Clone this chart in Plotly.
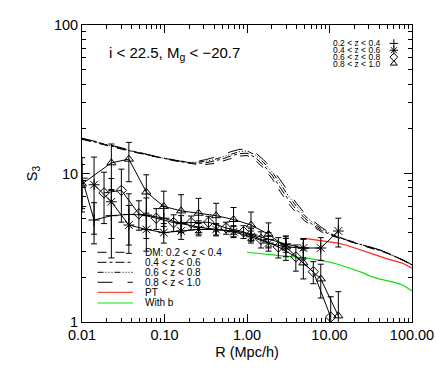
import plotly.graph_objects as go

# ---------------------------------------------------------------------------
# Data
# ---------------------------------------------------------------------------

# bin centres, R in Mpc/h
r_bins = [0.0140, 0.0227, 0.0370, 0.0602, 0.0980, 0.159, 0.259, 0.422,
          0.687, 1.118, 1.82, 2.96, 4.82, 7.84, 12.8]
r_bins_shift = [0.0185, 0.0300, 0.0489, 0.0795, 0.129, 0.210, 0.342, 0.557,
                0.907, 1.476, 2.40, 3.91, 6.36, 10.35]

# galaxies 0.2 < z < 0.4 (+)
r_z1 = [0.0100] + r_bins[:13]
s3_z1 = [9.3, 4.86, 5.2, 5.3, 5.25, 5.0, 4.6, 4.35, 4.2, 4.1, 3.9, 3.6, 3.35, 3.15]
err_z1 = [3.5, 1.5, 2.5, 2.0, 1.6, 1.0, 0.6, 0.45, 0.4, 0.35, 0.35, 0.4, 0.4, 0.45]

# galaxies 0.4 < z < 0.6 (asterisk)
r_z2 = r_bins
s3_z2 = [8.4, 6.45, 4.5, 4.2, 4.0, 4.1, 4.2, 4.2, 4.05, 3.75, 3.4, 3.2, 3.15, 3.15, 4.1]
err_z2 = [4.5, 2.8, 1.6, 1.2, 0.6, 0.5, 0.4, 0.35, 0.35, 0.35, 0.4, 0.45, 0.5, 0.55, 0.9]

# galaxies 0.6 < z < 0.8 (diamond)
r_z3 = r_bins_shift
s3_z3 = [7.4, 7.7, 5.35, 5.0, 4.67, 4.67, 4.7, 4.3, 4.05, 3.6, 3.2, 2.75, 2.18, 1.08]
err_z3 = [2.8, 3.0, 1.2, 0.8, 0.6, 0.5, 0.45, 0.4, 0.4, 0.45, 0.5, 0.55, 0.37, 0.4]

# galaxies 0.8 < z < 1.0 (triangle)
r_z4 = [0.0100] + r_bins[1:]
s3_z4 = [8.5, 11.8, 12.5, 7.5, 6.0, 5.6, 5.4, 5.2, 4.9, 4.5, 3.9, 3.2, 2.5, 1.95, 1.1]
err_z4 = [3.0, 4.0, 3.7, 2.3, 1.6, 1.6, 1.4, 1.1, 1.0, 1.0, 0.75, 0.6, 0.55, 0.5, 0.5]

# dark matter curves
r_dm = [0.0100, 0.0126, 0.0158, 0.0200, 0.0251, 0.0316, 0.0398, 0.0501, 0.0631, 0.0794,
        0.100, 0.126, 0.158, 0.200, 0.251, 0.316, 0.398, 0.501, 0.631, 0.794,
        1.00, 1.26, 1.58, 2.00, 2.51, 3.16, 3.98, 5.01, 6.31, 7.94,
        10.0, 12.6, 15.8, 20.0, 25.1, 31.6, 39.8, 50.1, 63.1, 79.4, 100.0]
dm_z1 = [17.0, 16.5, 16.0, 15.5, 15.0, 14.5, 14.05, 13.65, 13.25, 12.85, 12.55, 12.25, 11.95,
         11.7, 11.5, 11.5, 11.7, 12.1, 12.6, 13.1, 13.2, 12.3, 10.9, 9.3, 7.6, 6.3, 5.4, 4.8,
         4.4, 4.05, 3.85, 3.7, 3.52, 3.4, 3.28, 3.16, 3.04, 2.9, 2.74, 2.59, 2.41]
dm_z2 = [17.1, 16.6, 16.1, 15.6, 15.1, 14.6, 14.1, 13.7, 13.3, 12.9, 12.6, 12.3, 12.0,
         11.8, 11.7, 11.8, 12.1, 12.5, 13.1, 13.6, 13.7, 12.8, 11.4, 9.8, 8.1, 6.7, 5.7, 5.0,
         4.5, 4.15, 3.9, 3.73, 3.54, 3.42, 3.3, 3.18, 3.05, 2.92, 2.75, 2.6, 2.42]
dm_z3 = [17.2, 16.7, 16.2, 15.7, 15.2, 14.7, 14.2, 13.75, 13.35, 12.95, 12.65, 12.35, 12.05,
         11.9, 11.9, 12.1, 12.4, 12.9, 13.5, 14.0, 14.2, 13.3, 11.9, 10.3, 8.6, 7.1, 6.0, 5.2,
         4.65, 4.25, 3.95, 3.76, 3.56, 3.43, 3.31, 3.19, 3.06, 2.93, 2.76, 2.61, 2.43]
dm_z4 = [17.3, 16.8, 16.3, 15.8, 15.3, 14.8, 14.3, 13.8, 13.4, 13.0, 12.7, 12.4, 12.1,
         12.0, 12.1, 12.4, 12.8, 13.3, 14.0, 14.5, 14.7, 13.8, 12.4, 10.8, 9.1, 7.5, 6.3, 5.4,
         4.8, 4.35, 4.0, 3.78, 3.58, 3.45, 3.33, 3.2, 3.07, 2.94, 2.77, 2.62, 2.44]

# perturbation theory and with bias
r_pt = [5.01, 6.31, 7.94, 10.0, 12.6, 15.8, 20.0, 25.1, 31.6, 39.8, 50.1, 63.1, 79.4, 100.0]
s3_pt = [3.66, 3.6, 3.53, 3.46, 3.4, 3.3, 3.15, 3.02, 2.9, 2.77, 2.66, 2.57, 2.47, 2.3]
r_b = [1.00, 1.26, 1.58, 2.00, 2.51, 3.16, 3.98, 5.01, 6.31, 7.94, 10.0, 12.6, 15.8, 20.0,
       25.1, 31.6, 39.8, 50.1, 63.1, 79.4, 100.0]
s3_b = [2.95, 2.92, 2.88, 2.84, 2.8, 2.77, 2.74, 2.7, 2.65, 2.6, 2.53, 2.45, 2.36, 2.25,
        2.15, 2.03, 1.95, 1.89, 1.84, 1.76, 1.62]

gal_labels = ['0.2 < z < 0.4', '0.4 < z < 0.6', '0.6 < z < 0.8', '0.8 < z < 1.0']
dm_labels = ['DM: 0.2 < z < 0.4', '0.4 < z < 0.6', '0.6 < z < 0.8', '0.8 < z < 1.0']

# ---------------------------------------------------------------------------
# Figure
# ---------------------------------------------------------------------------

FONT = 'Liberation Sans, Arial, sans-serif'
dm_dashes = ['dash', 'dashdot', '6px,2px,1px,2px,1px,2px,1px,2px', 'longdash']
symbols = ['cross-thin-open', 'asterisk-open', 'diamond-open', 'triangle-up-open']
sizes = [8, 9, 8, 8]

fig = go.Figure()

for ys, dash in zip([dm_z1, dm_z2, dm_z3, dm_z4], dm_dashes):
    fig.add_trace(go.Scatter(x=r_dm, y=ys, mode='lines',
                             line=dict(color='black', width=1, dash=dash)))

fig.add_trace(go.Scatter(x=r_pt, y=s3_pt, mode='lines', line=dict(color='#ff2020', width=1.2)))
fig.add_trace(go.Scatter(x=r_b, y=s3_b, mode='lines', line=dict(color='#11dd11', width=1.2)))

gal = [(r_z1, s3_z1, err_z1), (r_z2, s3_z2, err_z2),
       (r_z3, s3_z3, err_z3), (r_z4, s3_z4, err_z4)]
for (xs, ys, es), sym, sz in zip(gal, symbols, sizes):
    fig.add_trace(go.Scatter(
        x=xs, y=ys, mode='lines+markers',
        line=dict(color='black', width=1),
        marker=dict(symbol=sym, size=sz, color='black', line=dict(color='black', width=1)),
        error_y=dict(type='data', array=es, color='black', thickness=1, width=3),
    ))

# legend symbols (top right), placed in axis-fraction units on the log axes
def frac_to_log(fx, fy):
    return 10 ** (-2 + 4 * fx), 10 ** (2 * fy)

leg_top_rows = [0.938, 0.915, 0.892, 0.870]
for ypos, sym, sz in zip(leg_top_rows, symbols, [6, 7, 6, 6]):
    lx, ly = frac_to_log(0.945, ypos)
    fig.add_trace(go.Scatter(x=[lx], y=[ly], mode='markers', hoverinfo='skip',
                             marker=dict(symbol=sym, size=sz, color='black',
                                         line=dict(color='black', width=1))))

annotations = [dict(x=0.075, y=0.905, xref='paper', yref='paper', xanchor='left',
                    yanchor='middle', showarrow=False,
                    text='i < 22.5, M<sub>g</sub> < \u221220.7',
                    font=dict(size=15, family=FONT, color='black'))]
for ypos, lbl in zip(leg_top_rows, gal_labels):
    annotations.append(dict(x=0.912, y=ypos, xref='paper', yref='paper', xanchor='right',
                            yanchor='middle', showarrow=False, text=lbl,
                            font=dict(size=8.5, family=FONT, color='black')))

shapes = []
leg_rows = [0.2347, 0.201, 0.1673, 0.1337, 0.100, 0.064]
leg_styles = [('black', d) for d in dm_dashes] + [('#ff2020', 'solid'), ('#11dd11', 'solid')]
leg_text = dm_labels + ['PT', 'With b']
for ypos, (col, dash), lbl in zip(leg_rows, leg_styles, leg_text):
    shapes.append(dict(type='line', xref='paper', yref='paper', x0=0.047, x1=0.154,
                       y0=ypos, y1=ypos, line=dict(color=col, width=1, dash=dash)))
    annotations.append(dict(x=0.184, y=ypos, xref='paper', yref='paper', xanchor='left',
                            yanchor='middle', showarrow=False, text=lbl,
                            font=dict(size=10, family=FONT, color='black')))

x_minor = [m * d for d in [0.01, 0.1, 1, 10] for m in range(2, 10)]
y_minor = [m * d for d in [1, 10] for m in range(2, 10)]

fig.update_layout(
    width=436, height=374,
    margin=dict(l=82, r=24, t=25, b=52),
    paper_bgcolor='white', plot_bgcolor='white',
    showlegend=False,
    font=dict(family=FONT, size=14, color='black'),
    xaxis=dict(type='log', range=[-2, 2], showgrid=False, zeroline=False, automargin=False,
               showline=True, linecolor='black', linewidth=1, mirror='ticks',
               ticks='inside', ticklen=8, tickcolor='black', tickwidth=1,
               tickmode='array', tickvals=[0.01, 0.1, 1, 10, 100],
               ticktext=['0.01', '0.10', '1.00', '10.00', '100.00'],
               tickfont=dict(size=14.5),
               minor=dict(tickmode='array', tickvals=x_minor, ticks='inside',
                          ticklen=4, tickcolor='black', tickwidth=1),
               title=dict(text='R (Mpc/h)', font=dict(size=14.5), standoff=4)),
    yaxis=dict(type='log', range=[0, 2], showgrid=False, zeroline=False, automargin=False,
               showline=True, linecolor='black', linewidth=1, mirror='ticks',
               ticks='inside', ticklen=8, tickcolor='black', tickwidth=1,
               tickmode='array', tickvals=[1, 10, 100], ticktext=['1', '10', '100'],
               tickfont=dict(size=14.5),
               minor=dict(tickmode='array', tickvals=y_minor, ticks='inside',
                          ticklen=4, tickcolor='black', tickwidth=1),
               title=dict(text='S<sub>3</sub>', font=dict(size=14.5), standoff=12)),
    annotations=annotations,
    shapes=shapes,
)

fig.write_html('out.html', config={'displayModeBar': False},
               post_script="document.body.style.margin='0';")
